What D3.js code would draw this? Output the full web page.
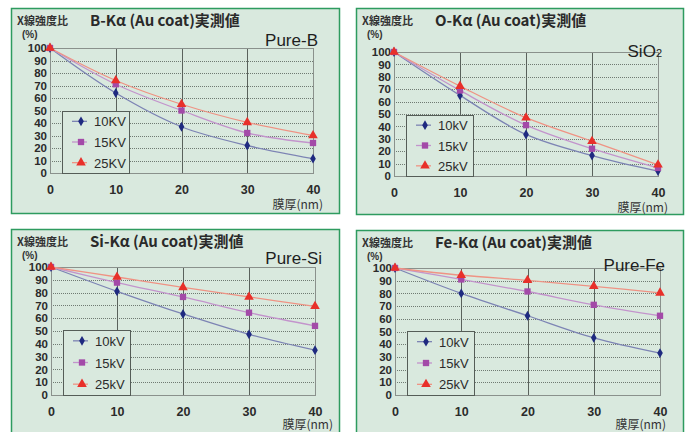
<!DOCTYPE html>
<html>
<head>
<meta charset="utf-8">
<script src="https://cdn.jsdelivr.net/npm/d3@7"></script>
<style>
  body { margin: 0; background: #fff; }
  svg { display: block; }
</style>
</head>
<body>
<div id="chart"></div>
<script>
// film thickness (nm) on the x axis
const thickness = [0, 10, 20, 30, 40];
const xTicks = [0, 10, 20, 30, 40];
const yTicks = [0, 10, 20, 30, 40, 50, 60, 70, 80, 90, 100];

const titles = ['B-Kα (Au coat)実測値', 'O-Kα (Au coat)実測値', 'Si-Kα (Au coat)実測値', 'Fe-Kα (Au coat)実測値'];
const samples = ['Pure-B', 'SiO2', 'Pure-Si', 'Pure-Fe'];
const legendLabels = [
  ['10KV', '15KV', '25KV'],
  ['10kV', '15kV', '25kV'],
  ['10kV', '15kV', '25kV'],
  ['10kV', '15kV', '25kV']
];

// X-ray intensity ratio (%)
const boron10 = [100, 64, 37, 22, 11.5];
const boron15 = [100, 71, 50, 32, 24];
const boron25 = [100, 74, 55, 40.5, 30];

const oxygen10 = [100, 65, 33.5, 16.5, 4];
const oxygen15 = [100, 69, 41, 22, 6.5];
const oxygen25 = [100, 72.5, 47, 28, 9];

const silicon10 = [100, 81, 63.3, 47.4, 35];
const silicon15 = [100, 87.8, 76.6, 64.3, 54];
const silicon25 = [100, 92.2, 84.1, 76.6, 69.3];

const iron10 = [100, 80, 62.4, 45, 33];
const iron15 = [100, 91, 81.5, 71, 62.4];
const iron25 = [100, 94.3, 90.3, 85.6, 80.4];

const panelSeries = [
  [boron10, boron15, boron25],
  [oxygen10, oxygen15, oxygen25],
  [silicon10, silicon15, silicon25],
  [iron10, iron15, iron25]
];

// panel frames and plot rectangles (pixels)
const layout = [
  {px: 11, py: 8, pw: 328, ph: 205, x0: 50, x1: 313, y0: 173, y1: 48, sx: 318, sy: 46, nx: 323},
  {px: 356, py: 8, pw: 327, ph: 206, x0: 394, x1: 658, y0: 176, y1: 52, sx: 662, sy: 57, nx: 668},
  {px: 11, py: 229, pw: 328, ph: 220, x0: 51, x1: 315, y0: 395, y1: 267, sx: 322, sy: 264, nx: 333},
  {px: 356, py: 230, pw: 327, ph: 220, x0: 395, x1: 660, y0: 395, y1: 268, sx: 665, sy: 271, nx: 666}
];

const markerColors = ['#1f2a80', '#a34aa8', '#e8302a'];
const lineColors = ['#7d84b4', '#c394cc', '#ef9384'];
const markerShapes = [d3.symbolDiamond, d3.symbolSquare, d3.symbolTriangle];
const markerSizes = [28, 40, 40];

const jp = '"Noto Sans CJK JP", sans-serif';
const latin = '"Liberation Sans", Arial, sans-serif';

const svg = d3.select('#chart').append('svg')
  .attr('width', 690)
  .attr('height', 432);

layout.forEach((L, i) => {
  const g = svg.append('g');

  g.append('rect')
    .attr('x', L.px + 0.5).attr('y', L.py + 0.5)
    .attr('width', L.pw).attr('height', L.ph)
    .attr('fill', '#d9e9de')
    .attr('stroke', '#2e9b5f')
    .attr('stroke-width', 1.5);

  const x = d3.scaleLinear().domain([0, 40]).range([L.x0, L.x1]);
  const y = d3.scaleLinear().domain([0, 100]).range([L.y0, L.y1]);

  // horizontal dotted grid
  g.selectAll('.hgrid')
    .data(yTicks.filter(v => v > 0 && v < 100))
    .join('line')
    .attr('x1', L.x0).attr('x2', L.x1)
    .attr('y1', d => Math.round(y(d)) + 0.5).attr('y2', d => Math.round(y(d)) + 0.5)
    .attr('stroke', '#6f7a72')
    .attr('stroke-width', 1)
    .attr('stroke-dasharray', '1,1');

  // vertical grid
  g.selectAll('.vgrid')
    .data(xTicks.filter(v => v > 0 && v < 40))
    .join('line')
    .attr('x1', d => Math.round(x(d)) + 0.5).attr('x2', d => Math.round(x(d)) + 0.5)
    .attr('y1', L.y1).attr('y2', L.y0)
    .attr('stroke', '#5a625c')
    .attr('stroke-width', 1);

  g.append('rect')
    .attr('x', L.x0 + 0.5).attr('y', L.y1 + 0.5)
    .attr('width', L.x1 - L.x0).attr('height', L.y0 - L.y1)
    .attr('fill', 'none')
    .attr('stroke', '#8a918c')
    .attr('stroke-width', 1);

  // axes
  const yAxis = g.append('g')
    .attr('transform', `translate(${L.x0},0)`)
    .call(d3.axisLeft(y).tickValues(yTicks).tickSize(0).tickPadding(3));
  const xAxis = g.append('g')
    .attr('transform', `translate(0,${L.y0})`)
    .call(d3.axisBottom(x).tickValues(xTicks).tickSize(0).tickPadding(12));
  [yAxis, xAxis].forEach(a => {
    a.select('.domain').remove();
    a.selectAll('text')
      .attr('fill', '#2b2b2b')
      .attr('font-family', latin)
      .attr('font-weight', 'bold');
  });
  yAxis.selectAll('text').attr('font-size', 11.5);
  xAxis.selectAll('text').attr('font-size', 12.5);

  // titles
  g.append('text')
    .attr('x', L.px + 6).attr('y', L.py + 17)
    .attr('font-family', jp).attr('font-size', 11).attr('font-weight', 'bold')
    .attr('fill', '#333')
    .text('X線強度比');
  g.append('text')
    .attr('x', L.px + 79).attr('y', L.py + 18)
    .attr('font-family', jp).attr('font-size', 15).attr('font-weight', 'bold')
    .attr('fill', '#2a2a2a')
    .text(titles[i]);
  g.append('text')
    .attr('x', L.px + 11).attr('y', L.py + 30)
    .attr('font-family', latin).attr('font-size', 10).attr('font-weight', 'bold')
    .attr('fill', '#333')
    .text('(%)');

  const sample = g.append('text')
    .attr('x', L.sx).attr('y', L.sy)
    .attr('text-anchor', 'end')
    .attr('font-family', latin).attr('font-size', 17)
    .attr('fill', '#1e1e1e');
  if (samples[i] === 'SiO2') {
    sample.append('tspan').text('SiO');
    sample.append('tspan').attr('font-size', 11).text('2');
  } else {
    sample.text(samples[i]);
  }

  g.append('text')
    .attr('x', L.nx).attr('y', Math.min(L.y0 + 36, 429))
    .attr('text-anchor', 'end')
    .attr('font-family', jp).attr('font-size', 12)
    .attr('fill', '#333')
    .text('膜厚(nm)');

  // legend box
  const lx = L.x0 + 12, ly = L.y1 + 63;
  g.append('rect')
    .attr('x', lx + 0.5).attr('y', ly + 0.5)
    .attr('width', 67).attr('height', L.y0 - ly)
    .attr('fill', '#d9e9de')
    .attr('stroke', '#555d57')
    .attr('stroke-width', 1);

  // series
  const line = d3.line()
    .x((d, j) => x(thickness[j]))
    .y(d => y(d))
    .curve(d3.curveCatmullRom.alpha(0.5));

  panelSeries[i].forEach((vals, s) => {
    g.append('path')
      .attr('d', line(vals))
      .attr('fill', 'none')
      .attr('stroke', lineColors[s])
      .attr('stroke-width', 1.3);
  });
  panelSeries[i].forEach((vals, s) => {
    g.selectAll(null)
      .data(vals)
      .join('path')
      .attr('transform', (d, j) => `translate(${x(thickness[j])},${y(d)})`)
      .attr('d', d3.symbol(markerShapes[s], markerSizes[s]))
      .attr('fill', markerColors[s]);
  });

  const rowGap = (L.y0 - ly) / 3;
  legendLabels[i].forEach((lab, s) => {
    const ry = ly + rowGap * (s + 0.5);
    g.append('line')
      .attr('x1', lx + 10).attr('x2', lx + 25)
      .attr('y1', ry).attr('y2', ry)
      .attr('stroke', lineColors[s])
      .attr('stroke-width', 1.3);
    g.append('path')
      .attr('transform', `translate(${lx + 19},${ry})`)
      .attr('d', d3.symbol(markerShapes[s], markerSizes[s]))
      .attr('fill', markerColors[s]);
    g.append('text')
      .attr('x', lx + 32).attr('y', ry + 5)
      .attr('font-family', latin).attr('font-size', 13)
      .attr('fill', '#2b2b2b')
      .text(lab);
  });
});
</script>
</body>
</html>
